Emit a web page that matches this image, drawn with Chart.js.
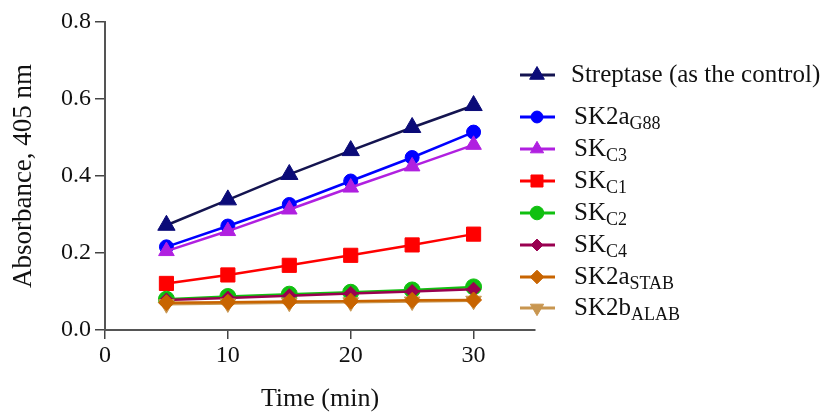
<!DOCTYPE html>
<html><head><meta charset="utf-8">
<script src="https://cdn.jsdelivr.net/npm/chart.js@4/dist/chart.umd.min.js"></script>
<style>html,body{margin:0;padding:0;background:#fff}#wrap{position:relative;width:830px;height:415px}</style>
</head><body><div id="wrap"><canvas id="c" width="830" height="415"></canvas></div>
<script>
const timePoints = [5, 10, 15, 20, 25, 30];
const streptase = [0.272, 0.338, 0.404, 0.466, 0.526, 0.583];
const sk2aG88   = [0.216, 0.270, 0.326, 0.387, 0.448, 0.514];
const skC3      = [0.205, 0.257, 0.313, 0.370, 0.425, 0.481];
const skC1      = [0.121, 0.143, 0.168, 0.194, 0.221, 0.249];
const skC2      = [0.080, 0.087, 0.093, 0.098, 0.104, 0.112];
const skC4      = [0.078, 0.083, 0.089, 0.095, 0.100, 0.106];
const sk2aSTAB  = [0.071, 0.072, 0.074, 0.075, 0.077, 0.078];
const sk2bALAB  = [0.067, 0.069, 0.071, 0.072, 0.074, 0.076];
const seriesNames = ['Streptase (as the control)', 'SK2a', 'SK', 'SK', 'SK', 'SK', 'SK2a', 'SK2b'];
const seriesSubs  = ['', 'G88', 'C3', 'C1', 'C2', 'C4', 'STAB', 'ALAB'];
const xTicks = [0, 10, 20, 30];
const yTicks = [0, 0.2, 0.4, 0.6, 0.8];

const allSeries = [streptase, sk2aG88, skC3, skC1, skC2, skC4, sk2aSTAB, sk2bALAB];
const colors = ['#0b0b78', '#0000ff', '#b020e0', '#ff0000', '#10c010', '#990050', '#c86400', '#c89650'];
const lineColors = ['#141450', '#0000ff', '#b020e0', '#ff0000', '#10c010', '#990050', '#c86400', '#c89650'];
const styles = ['triangle', 'circle', 'triangle', 'rect', 'circle', 'rectRot', 'rectRot', 'triangle'];
const radii = [10, 7, 9, 10, 8, 7, 8, 9];
const rotations = [0, 0, 0, 0, 0, 0, 0, 180];
const drawOrder = [0, -1, -2, -3, -4, -5, -7, -6];
const legendY = [75, 117, 149, 181, 213, 245, 277, 308];

const FONT = '"Liberation Serif", "Times New Roman", serif';
Chart.defaults.font.family = FONT;
Chart.defaults.color = '#111';

const datasets = allSeries.map((arr, i) => ({
  label: seriesNames[i] + seriesSubs[i],
  data: timePoints.map((t, j) => ({x: t, y: arr[j]})),
  borderColor: lineColors[i],
  backgroundColor: colors[i],
  pointBackgroundColor: colors[i],
  pointBorderColor: colors[i],
  pointBorderWidth: 1,
  pointStyle: styles[i],
  pointRadius: radii[i],
  pointRotation: rotations[i],
  borderWidth: 2.5,
  tension: 0,
  order: drawOrder[i]
}));

const legendPlugin = {
  id: 'subLegend',
  afterDraw(chart) {
    const ctx = chart.ctx;
    chart.data.datasets.forEach((ds, i) => {
      const y = legendY[i];
      ctx.save();
      ctx.strokeStyle = ds.borderColor; ctx.lineWidth = 3;
      ctx.beginPath(); ctx.moveTo(520, y); ctx.lineTo(555, y); ctx.stroke();
      ctx.fillStyle = ds.pointBackgroundColor; ctx.strokeStyle = ds.pointBorderColor; ctx.lineWidth = 1;
      Chart.helpers.drawPoint(ctx, {pointStyle: ds.pointStyle, radius: ds.pointRadius * 0.85, rotation: ds.pointRotation || 0, borderWidth: 1}, 537, y);
      ctx.fillStyle = '#111'; ctx.font = '25px ' + FONT; ctx.textBaseline = 'middle'; ctx.textAlign = 'left';
      const x0 = i === 0 ? 571 : 574;
      ctx.fillText(seriesNames[i], x0, y);
      if (seriesSubs[i]) {
        const w = ctx.measureText(seriesNames[i]).width;
        ctx.font = '18px ' + FONT;
        ctx.fillText(seriesSubs[i], x0 + w, y + 7);
      }
      ctx.restore();
    });
  }
};

new Chart(document.getElementById('c'), {
  type: 'line',
  data: {datasets},
  plugins: [legendPlugin],
  options: {
    responsive: false,
    devicePixelRatio: 1,
    animation: false,
    layout: {padding: {top: 22, right: 295, left: 0, bottom: 0}},
    plugins: {legend: {display: false}, tooltip: {enabled: false}},
    scales: {
      x: {
        type: 'linear', min: 0, max: 35,
        afterBuildTicks: s => { s.ticks = xTicks.map(v => ({value: v})); },
        afterFit: s => { s.height = 85; },
        ticks: {font: {size: 24}, color: '#111', padding: 2, callback: v => String(v)},
        grid: {drawOnChartArea: false, drawTicks: true, tickLength: 9, color: '#444', lineWidth: 1.5},
        border: {display: true, color: '#555', width: 2},
        title: {display: true, text: 'Time (min)', font: {size: 26}, color: '#111', padding: {top: 4, bottom: 0}}
      },
      y: {
        min: 0, max: 0.8,
        afterBuildTicks: s => { s.ticks = yTicks.map(v => ({value: v})); },
        afterFit: s => { s.width = 105; },
        ticks: {font: {size: 24}, color: '#111', padding: 4, callback: v => v.toFixed(1)},
        grid: {drawOnChartArea: false, drawTicks: true, tickLength: 10, color: '#444', lineWidth: 1.5},
        border: {display: true, color: '#555', width: 2},
        title: {display: true, text: 'Absorbance, 405 nm', font: {size: 27}, color: '#111', padding: {top: 8, bottom: 0}}
      }
    }
  }
});
</script></body></html>
